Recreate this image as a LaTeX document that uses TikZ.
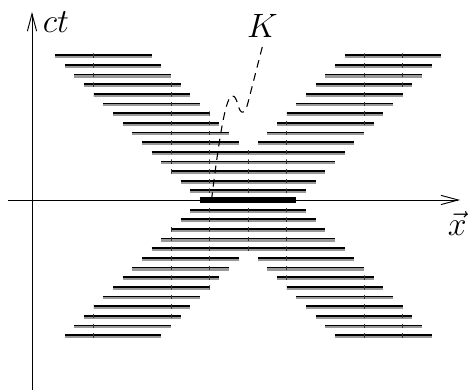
\documentclass[tikz,border=0pt]{standalone}
\usepackage{amsmath}
\usetikzlibrary{arrows.meta}

\tikzset{
  axis/.style={line width=0.7pt, -{Straight Barb[length=0.45cm, width=0.24cm, line width=0.7pt]}},
  rodshade/.style={line width=2.4pt, black!40},
  rodrow/.style={line width=1.3pt, black},
  rodnow/.style={line width=3.8pt, black},
  tickmark/.style={line width=0.5pt, black!80},
  worldline/.style={line width=0.8pt, dash pattern=on 0.2cm off 0.15cm},
  biglabel/.style={font=\fontsize{23}{26}\selectfont}
}

\begin{document}
\begin{tikzpicture}
  \useasboundingbox (-0.829,-4.922) rectangle (11.295,5.181);

  % Rows of both rods (left-moving and right-moving)
  \foreach \k in {-14,...,15}{
    \pgfmathsetmacro\y{0.25*\k}
    \pgfmathsetmacro\a{4.35-0.25*\k}
    \pgfmathsetmacro\b{4.35+0.25*\k}
    \draw[rodshade] (\a,\y-0.035) -- ++(2.5,0);
    \draw[rodshade] (\b,\y-0.035) -- ++(2.5,0);
    \draw[rodrow] (\a,\y) -- ++(2.5,0);
    \draw[rodrow] (\b,\y) -- ++(2.5,0);
    % small marks where the rows cross the grid
    \begin{scope}
      \clip (\a,\y-0.07) rectangle ++(2.5,0.12) (\b,\y-0.07) rectangle ++(2.5,0.12);
      \foreach \t in {1.6,3.6,4.6,5.6,6.6,8.6,9.6}
        \draw[tickmark] (\t,\y-0.07) -- (\t,\y+0.05);
    \end{scope}
  }

  % Both rods at t = 0
  \draw[rodnow] (4.35,0) -- (6.85,0);

  % Axes
  \coordinate (xstart) at (-0.62,0);
  \coordinate (xend) at (11.09,0);
  \coordinate (ystart) at (0,-4.95);
  \coordinate (yend) at (0,4.87);
  \draw[axis] (xstart) -- (xend);
  \draw[axis] (ystart) -- (yend);
  \node[biglabel] (ctlabel) at (0.62,4.6) {$ct$};
  \node[biglabel] (xlabel) at (11.02,-0.6) {$\vec{x}$};

  % World line of K
  \draw[worldline] (4.65,0) .. controls (4.8,1.2) and (4.95,2.3) .. (5.1,2.6)
    .. controls (5.2,2.85) and (5.3,2.6) .. (5.34,2.46)
    .. controls (5.4,2.2) and (5.52,2.2) .. (5.6,2.54)
    -- (5.98,4.02);
  \node[biglabel] (klabel) at (5.97,4.5) {$K$};
\end{tikzpicture}
\end{document}
